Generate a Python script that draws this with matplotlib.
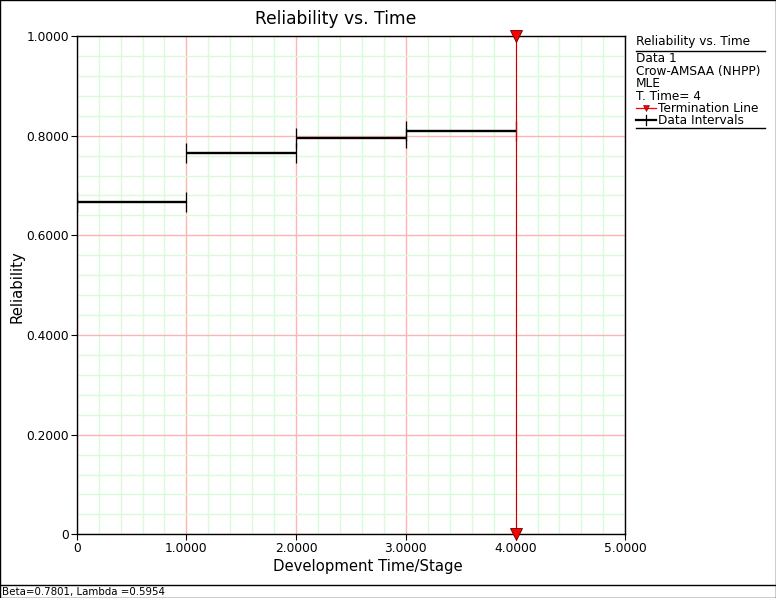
import numpy as np
import matplotlib
matplotlib.use('Agg')
import matplotlib.pyplot as plt
from matplotlib.lines import Line2D
from matplotlib.patches import Rectangle
from matplotlib.ticker import MultipleLocator, FuncFormatter

# data
interval_start = [0.0, 1.0, 2.0, 3.0]
interval_end = [1.0, 2.0, 3.0, 4.0]
reliability = [0.6673, 0.7657, 0.7946, 0.8098]
term_time = 4.0
legend_lines = ['Data 1', 'Crow-AMSAA (NHPP)', 'MLE', 'T. Time= 4']
status_text = 'Beta=0.7801, Lambda =0.5954'

plt.rcParams['font.family'] = 'DejaVu Sans'

fig = plt.figure(figsize=(7.76, 5.98), dpi=100)
ax = fig.add_axes([0.0988, 0.1065, 0.707, 0.8333])

ax.set_xlim(0, 5)
ax.set_ylim(0, 1)
ax.xaxis.set_major_locator(MultipleLocator(1.0))
ax.xaxis.set_minor_locator(MultipleLocator(0.2))
ax.yaxis.set_major_locator(MultipleLocator(0.2))
ax.yaxis.set_minor_locator(MultipleLocator(0.04))

fmt = FuncFormatter(lambda v, p: '0' if abs(v) < 1e-9 else '%.4f' % v)
ax.xaxis.set_major_formatter(fmt)
ax.yaxis.set_major_formatter(fmt)

ax.grid(which='minor', color='#d8fcd8', lw=1.0)
ax.grid(which='major', color='#ffb4b4', lw=1.0)
ax.set_axisbelow(True)
ax.tick_params(which='major', direction='out', length=4, width=0.8,
               labelsize=8.8, pad=1.5)
ax.tick_params(which='minor', length=0)
for s in ['top', 'right', 'left', 'bottom']:
    ax.spines[s].set_linewidth(1.0)

# data intervals
mids = [(a + b) / 2.0 for a, b in zip(interval_start, interval_end)]
half = [(b - a) / 2.0 for a, b in zip(interval_start, interval_end)]
ax.errorbar(mids, reliability, xerr=half, fmt='none', ecolor='black',
            elinewidth=1.7, capsize=7, capthick=0.9, zorder=4)

# termination line
ax.plot([term_time, term_time], [0, 1], color='#cc0000', lw=0.8, zorder=5)
ax.plot([term_time, term_time], [0, 1], ls='none', marker='v',
        markersize=8, markerfacecolor='red', markeredgecolor='#600000',
        markeredgewidth=0.6, clip_on=False, zorder=6)

fig.text(0.432, 0.968, 'Reliability vs. Time', ha='center', va='center',
         fontsize=12.3)
fig.text(0.4735, 0.0535, 'Development Time/Stage', ha='center',
         va='center', fontsize=10.7)
fig.text(0.0215, 0.521, 'Reliability', ha='center', va='center',
         rotation=90, fontsize=10.7)

# legend block
lx = 636 / 776.0
fs = 8.7
fig.text(lx, 1 - 42 / 598.0, 'Reliability vs. Time', ha='left',
         va='center', fontsize=fs)
fig.add_artist(Line2D([lx, 765 / 776.0], [1 - 51 / 598.0] * 2,
                      color='black', lw=1.0))
for i, t in enumerate(legend_lines):
    fig.text(lx, 1 - (59 + 12.4 * i) / 598.0, t, ha='left', va='center',
             fontsize=fs)
y_t = 1 - 108 / 598.0
fig.add_artist(Line2D([lx, 656 / 776.0], [y_t, y_t], color='red', lw=0.9))
fig.add_artist(Line2D([646 / 776.0], [y_t], marker='v', markersize=4,
                      color='red', markeredgecolor='#600000',
                      markeredgewidth=0.4))
fig.text(658 / 776.0, y_t, 'Termination Line', ha='left', va='center',
         fontsize=fs)
y_d = 1 - 120 / 598.0
fig.add_artist(Line2D([lx, 656 / 776.0], [y_d, y_d], color='black',
                      lw=1.6))
fig.add_artist(Line2D([646 / 776.0] * 2, [y_d - 0.009, y_d + 0.009],
                      color='black', lw=0.9))
fig.text(658 / 776.0, y_d, 'Data Intervals', ha='left', va='center',
         fontsize=fs)
fig.add_artist(Line2D([lx, 765 / 776.0], [1 - 128 / 598.0] * 2,
                      color='black', lw=1.0))

# status bar and frame
fig.add_artist(Line2D([0, 1], [1 - 585 / 598.0] * 2, color='black',
                      lw=1.0))
fig.text(2 / 776.0, 1 - 591.5 / 598.0, status_text, ha='left',
         va='center', fontsize=7.4)
fig.add_artist(Rectangle((0.0006, 0.0008), 0.9988, 0.9984,
                         transform=fig.transFigure, fill=False,
                         edgecolor='black', lw=1.0))

fig.savefig('out.png', dpi=100)
